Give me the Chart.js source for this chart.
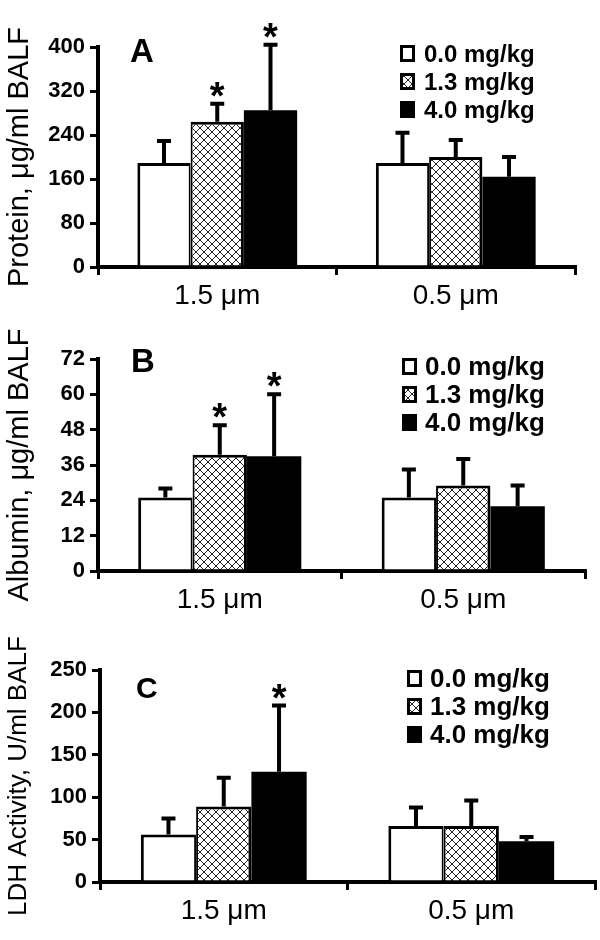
<!DOCTYPE html>
<html>
<head>
<meta charset="utf-8">
<script src="https://cdn.jsdelivr.net/npm/chart.js@4"></script>
<style>
    body { margin: 0; background: #fff; }
    canvas { display: block; }
</style>
</head>
<body>
<canvas id="chartA" width="600" height="310"></canvas>
<canvas id="chartB" width="600" height="310"></canvas>
<canvas id="chartC" width="600" height="320"></canvas>
<script>
const sizeLabels = ["1.5 μm", "0.5 μm"];
const doseLabels = ["0.0 mg/kg", "1.3 mg/kg", "4.0 mg/kg"];

// A: protein, ug/ml BALF (mean and SD for each dose, per particle size)
const protein0 = [189, 189];
const protein1 = [264, 200];
const protein2 = [285, 164];
const proteinSd0 = [40, 55];
const proteinSd1 = [33, 31];
const proteinSd2 = [119, 36];
const proteinStars = [[false, false], [true, false], [true, false]];
const proteinTicks = [0, 80, 160, 240, 320, 400];

// B: albumin, ug/ml BALF
const albumin0 = [25, 25];
const albumin1 = [39.5, 29];
const albumin2 = [39, 22];
const albuminSd0 = [3, 9.5];
const albuminSd1 = [10, 9];
const albuminSd2 = [21, 7];
const albuminStars = [[false, false], [true, false], [true, false]];
const albuminTicks = [0, 12, 24, 36, 48, 60, 72];

// C: LDH activity, U/ml BALF
const ldh0 = [56, 66];
const ldh1 = [89, 66];
const ldh2 = [130, 48];
const ldhSd0 = [19, 22];
const ldhSd1 = [34, 30];
const ldhSd2 = [78, 5];
const ldhStars = [[false, false], [false, false], [true, false]];
const ldhTicks = [0, 50, 100, 150, 200, 250];

const FONT = "'Liberation Sans', Arial, sans-serif";

function makeHatch() {
    const c = document.createElement("canvas");
    c.width = 8;
    c.height = 8;
    const g = c.getContext("2d");
    g.fillStyle = "#fff";
    g.fillRect(0, 0, 8, 8);
    g.strokeStyle = "#222";
    g.lineWidth = 1;
    g.beginPath();
    g.moveTo(0, 0);
    g.lineTo(8, 8);
    g.moveTo(8, 0);
    g.lineTo(0, 8);
    g.stroke();
    return g.createPattern(c, "repeat");
}

// upper error whisker + significance star
const errorBars = {
    id: "errorBars",
    afterDatasetsDraw(chart) {
        const ctx = chart.ctx;
        const yScale = chart.scales.y;
        chart.data.datasets.forEach((ds, i) => {
            chart.getDatasetMeta(i).data.forEach((bar, j) => {
                const top = yScale.getPixelForValue(ds.data[j] + ds.sd[j]);
                ctx.save();
                ctx.strokeStyle = "#000";
                ctx.lineWidth = 4;
                ctx.beginPath();
                ctx.moveTo(bar.x, bar.y);
                ctx.lineTo(bar.x, top);
                ctx.moveTo(bar.x - 7, top);
                ctx.lineTo(bar.x + 7, top);
                ctx.stroke();
                if (ds.star[j]) {
                    ctx.fillStyle = "#000";
                    ctx.font = "bold 38px " + FONT;
                    ctx.textAlign = "center";
                    ctx.textBaseline = "alphabetic";
                    ctx.fillText("*", bar.x, top + 5);
                }
                ctx.restore();
            });
        });
    },
};

// legend box in the top right corner and the panel letter
const panelDecor = {
    id: "panelDecor",
    afterDraw(chart, args, opts) {
        const ctx = chart.ctx;
        ctx.save();
        ctx.fillStyle = "#000";
        ctx.font = "bold " + opts.letterSize + "px " + FONT;
        ctx.textBaseline = "alphabetic";
        ctx.textAlign = "left";
        ctx.fillText(opts.letter, opts.letterX, opts.letterY);

        chart.data.datasets.forEach((ds, i) => {
            const bx = opts.legendX;
            const by = opts.legendY + i * 28;
            ctx.fillStyle = ds.backgroundColor;
            ctx.fillRect(bx, by, 15, 17);
            ctx.strokeStyle = "#000";
            ctx.lineWidth = 3;
            ctx.strokeRect(bx + 1.5, by + 1.5, 12, 14);
            ctx.fillStyle = "#000";
            ctx.font = "bold " + opts.legendSize + "px " + FONT;
            ctx.fillText(ds.label, opts.textX, by + 17);
        });
        ctx.restore();
    },
};

function buildPanel(id, p) {
    const hatch = makeHatch();
    new Chart(document.getElementById(id), {
        type: "bar",
        data: {
            labels: sizeLabels,
            datasets: [
                {
                    label: doseLabels[0],
                    data: p.means[0],
                    sd: p.sds[0],
                    star: p.stars[0],
                    backgroundColor: "#fff",
                    borderColor: "#000",
                    borderWidth: { left: 3, top: 3, right: 2, bottom: 0 },
                },
                {
                    label: doseLabels[1],
                    data: p.means[1],
                    sd: p.sds[1],
                    star: p.stars[1],
                    backgroundColor: hatch,
                    borderColor: "#000",
                    borderWidth: { left: 2, top: 3, right: 3, bottom: 0 },
                },
                {
                    label: doseLabels[2],
                    data: p.means[2],
                    sd: p.sds[2],
                    star: p.stars[2],
                    backgroundColor: "#000",
                    borderWidth: 0,
                },
            ],
        },
        options: {
            responsive: false,
            animation: false,
            layout: {
                padding: { top: p.top, right: 600 - p.right, left: 0, bottom: 0 },
            },
            datasets: {
                bar: { categoryPercentage: 0.67, barPercentage: 1 },
            },
            plugins: {
                legend: { display: false },
                tooltip: { enabled: false },
                panelDecor: p.decor,
            },
            scales: {
                x: {
                    grid: {
                        offset: true,
                        drawOnChartArea: false,
                        tickLength: 8,
                        lineWidth: 3,
                        color: "#000",
                    },
                    border: { width: 4, color: "#000" },
                    ticks: {
                        color: "#000",
                        padding: 4,
                        font: { family: FONT, size: 28 },
                    },
                    afterFit(scale) {
                        scale.height = p.height - p.bottom;
                    },
                },
                y: {
                    min: p.ticks[0],
                    max: p.ticks[p.ticks.length - 1],
                    afterBuildTicks(scale) {
                        scale.ticks = p.ticks.map((v) => ({ value: v }));
                    },
                    grid: {
                        drawOnChartArea: false,
                        tickLength: 8,
                        lineWidth: 3,
                        color: "#000",
                    },
                    border: { width: 4, color: "#000" },
                    ticks: {
                        color: "#000",
                        padding: 5,
                        font: { family: FONT, size: 22, weight: "bold" },
                    },
                    title: {
                        display: true,
                        text: p.title,
                        color: "#000",
                        padding: { top: 3, bottom: 0 },
                        font: { family: FONT, size: p.titleSize },
                    },
                    afterFit(scale) {
                        scale.width = p.left;
                    },
                },
            },
        },
        plugins: [errorBars, panelDecor],
    });
}

document.addEventListener("DOMContentLoaded", function () {
    buildPanel("chartA", {
        means: [protein0, protein1, protein2],
        sds: [proteinSd0, proteinSd1, proteinSd2],
        stars: proteinStars,
        ticks: proteinTicks,
        title: "Protein, μg/ml BALF",
        titleSize: 29,
        height: 310, top: 47, bottom: 267, left: 98, right: 575,
        decor: {
            letter: "A", letterX: 130, letterY: 62, letterSize: 33,
            legendX: 400, legendY: 45, textX: 424, legendSize: 24,
        },
    });
    buildPanel("chartB", {
        means: [albumin0, albumin1, albumin2],
        sds: [albuminSd0, albuminSd1, albuminSd2],
        stars: albuminStars,
        ticks: albuminTicks,
        title: "Albumin, μg/ml BALF",
        titleSize: 29,
        height: 310, top: 49, bottom: 261, left: 98, right: 585,
        decor: {
            letter: "B", letterX: 131, letterY: 62, letterSize: 33,
            legendX: 402, legendY: 48, textX: 425, legendSize: 26,
        },
    });
    buildPanel("chartC", {
        means: [ldh0, ldh1, ldh2],
        sds: [ldhSd0, ldhSd1, ldhSd2],
        stars: ldhStars,
        ticks: ldhTicks,
        title: "LDH Activity, U/ml BALF",
        titleSize: 26,
        height: 320, top: 50, bottom: 262, left: 100, right: 595,
        decor: {
            letter: "C", letterX: 136, letterY: 78, letterSize: 30,
            legendX: 407, legendY: 50, textX: 430, legendSize: 26,
        },
    });
});
</script>
</body>
</html>
